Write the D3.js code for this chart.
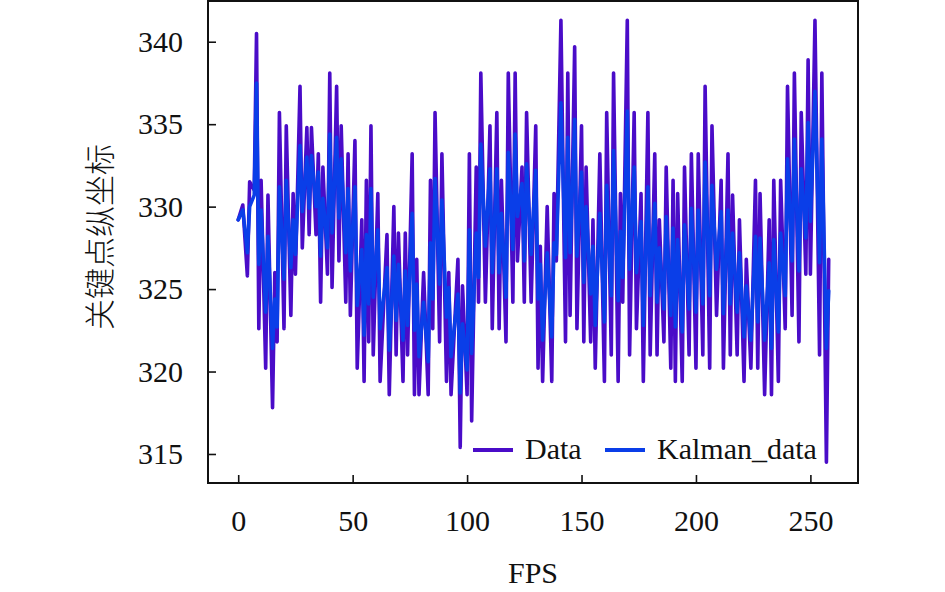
<!DOCTYPE html>
<html>
<head>
<meta charset="utf-8">
<script src="https://cdn.jsdelivr.net/npm/d3@7"></script>
<style>
  body { margin: 0; background: #fff; }
</style>
</head>
<body>
<div id="chart"></div>
<script>
// frame numbers of the vertices
var frames = [0,2,4,5,7,8,9,10,12,13,15,16,17,18,20,21,23,24,25,27,28,30,31,32,34,35,36,37,39,40,
  41,43,44,45,47,48,49,51,52,54,55,56,57,58,59,61,62,65,66,68,69,70,72,73,74,76,77,78,79,81,
  83,84,85,86,88,89,91,92,93,96,97,98,100,101,102,104,105,106,108,110,111,113,114,115,117,118,120,121,122,124,
  125,126,128,130,131,132,133,135,137,138,139,141,143,144,145,147,148,150,151,152,154,155,156,158,160,161,163,164,166,167,
  168,170,171,173,174,176,177,179,180,182,183,184,186,187,189,190,191,192,194,195,197,198,200,201,203,204,206,207,209,211,
  212,214,215,216,218,219,221,222,224,226,227,228,230,232,233,234,236,237,239,240,242,243,245,246,248,249,250,252,254,255,
  257,258];

var dataVals = [329.2,330.1,325.8,331.5,331.0,340.5,322.6,331.6,320.2,330.7,317.8,326.0,321.8,335.7,322.6,334.9,323.4,330.8,325.9,337.3,327.5,334.8,328.3,334.8,328.3,333.2,324.2,332.4,325.9,338.1,
  325.1,337.3,326.7,334.9,324.2,333.2,323.4,334.0,320.2,329.2,319.4,331.6,321.8,334.9,321.0,330.8,319.4,328.3,318.6,330.0,321.0,328.4,319.4,328.4,321.0,333.2,318.6,326.8,318.6,326.0,
  318.6,331.6,322.6,335.7,321.8,333.2,319.4,326.0,318.6,326.8,315.4,325.2,318.6,333.2,317.0,332.4,324.2,338.1,324.2,334.9,322.6,335.7,322.6,331.6,321.8,338.1,324.2,338.1,326.7,332.4,
  324.2,335.7,324.2,334.9,320.2,327.6,319.4,330.0,319.4,330.8,326.7,341.3,321.8,338.1,323.4,339.7,322.6,334.9,321.8,332.4,321.8,329.2,320.2,333.2,319.4,335.7,321.0,338.1,319.4,330.8,
  324.2,341.3,321.0,335.7,322.6,330.8,319.4,335.7,321.0,333.2,321.0,329.2,321.8,332.4,320.2,331.6,319.4,330.8,319.4,332.4,321.0,333.2,320.2,333.2,321.0,337.3,320.2,334.9,323.4,331.6,
  320.2,333.2,321.0,330.7,321.0,329.2,319.4,326.8,320.2,331.6,320.2,330.8,318.6,329.2,318.6,331.6,319.4,331.6,322.6,337.3,323.4,338.1,321.8,335.7,325.9,338.9,325.9,341.3,321.0,338.1,
  314.5,326.8];

var kalmanVals = [329.2,329.8,327.2,330.0,330.7,337.5,326.5,329.8,323.6,328.2,321.4,324.4,322.7,331.2,325.6,331.6,326.3,329.2,327.1,333.7,329.7,333.0,329.9,333.1,330.0,332.1,327.0,330.5,327.5,334.4,
  328.4,334.2,329.3,332.9,327.2,331.1,326.1,331.2,324.0,327.4,322.2,328.3,324.1,331.1,324.5,328.6,322.6,326.3,321.3,327.0,323.1,326.5,321.9,326.1,322.8,329.6,322.5,325.3,320.9,324.2,
  320.6,327.8,324.4,331.7,325.3,330.4,323.3,325.1,320.9,324.7,318.7,322.9,320.1,328.6,321.1,328.4,325.7,333.8,327.6,332.3,326.0,332.3,326.0,329.6,324.5,333.3,327.4,334.4,329.4,331.4,
  326.7,332.6,327.1,332.2,324.4,326.5,321.9,327.2,322.1,327.8,327.1,336.3,326.9,334.2,327.2,335.3,327.0,332.1,325.4,330.0,324.7,327.6,322.8,329.6,323.0,331.3,324.6,333.4,324.3,328.5,
  325.7,335.8,326.2,332.4,326.0,329.1,322.8,331.2,324.6,330.2,324.2,327.5,323.8,329.4,323.4,328.7,322.7,328.0,322.4,328.9,323.8,329.9,323.6,329.8,324.1,332.7,324.6,331.3,326.2,329.7,
  323.5,329.8,324.1,328.4,323.6,327.2,322.1,325.2,321.9,328.2,323.0,328.1,321.9,326.6,321.4,328.0,322.4,328.4,324.6,332.9,326.7,334.1,326.1,332.3,328.1,335.1,329.1,337.0,326.6,334.1,
  321.4,324.9];

var xTicks = [0, 50, 100, 150, 200, 250];
var yTicks = [315, 320, 325, 330, 335, 340];
var seriesNames = ["Data", "Kalman_data"];
var seriesColors = ["#4a0cc8", "#0a3ee8"];

var serif = "'Liberation Serif', 'Times New Roman', serif";

var W = 945, H = 592;
var margin = {left: 208, top: 1, right: 87, bottom: 109};
var pw = W - margin.left - margin.right;
var ph = H - margin.top - margin.bottom;

var svg = d3.select("#chart").append("svg")
    .attr("width", W)
    .attr("height", H);

var g = svg.append("g")
    .attr("transform", "translate(" + margin.left + "," + margin.top + ")");

var x = d3.scaleLinear().domain([-13.2, 270.8]).range([0, pw]);
var y = d3.scaleLinear().domain([313.24, 342.47]).range([ph, 0]);

// axes, ticks pointing inward
var xAxis = g.append("g")
    .attr("transform", "translate(0," + ph + ")")
    .call(d3.axisBottom(x).tickValues(xTicks).tickSize(-8).tickPadding(27));
var yAxis = g.append("g")
    .call(d3.axisLeft(y).tickValues(yTicks).tickSize(-8).tickPadding(25));

[xAxis, yAxis].forEach(function(a) {
  a.select(".domain").remove();
  a.selectAll(".tick line").attr("stroke", "#111").attr("stroke-width", 1.6);
  a.selectAll(".tick text")
    .style("font-family", serif)
    .style("font-size", "30px")
    .style("fill", "#111");
});

var line = d3.line()
    .x(function(d) { return x(d[0]); })
    .y(function(d) { return y(d[1]); });

var dataPts = frames.map(function(f, i) { return [f, dataVals[i]]; });
var kalPts = frames.map(function(f, i) { return [f, kalmanVals[i]]; });

g.append("path")
    .attr("d", line(dataPts))
    .style("fill", "none")
    .style("stroke", seriesColors[0])
    .style("stroke-width", 3.6)
    .style("stroke-linejoin", "round")
    .style("stroke-linecap", "round");

g.append("path")
    .attr("d", line(kalPts))
    .style("fill", "none")
    .style("stroke", seriesColors[1])
    .style("stroke-width", 3.6)
    .style("stroke-linejoin", "round")
    .style("stroke-linecap", "round");

// legend
var legend = svg.append("g");
var legX = [473, 605];
seriesNames.forEach(function(name, i) {
  legend.append("line")
      .attr("x1", legX[i]).attr("x2", legX[i] + 40)
      .attr("y1", 450).attr("y2", 450)
      .attr("stroke", seriesColors[i])
      .attr("stroke-width", 4);
  legend.append("text")
      .attr("x", legX[i] + 52)
      .attr("y", 459)
      .style("font-family", serif)
      .style("font-size", "30px")
      .style("fill", "#111")
      .text(name);
});

// frame
g.append("rect")
    .attr("x", 0).attr("y", 0)
    .attr("width", pw).attr("height", ph)
    .style("fill", "none")
    .style("stroke", "#111")
    .style("stroke-width", 2);

// axis titles
svg.append("text")
    .attr("x", margin.left + pw / 2)
    .attr("y", 583)
    .attr("text-anchor", "middle")
    .style("font-family", serif)
    .style("font-size", "30px")
    .style("fill", "#111")
    .text("FPS");

svg.append("text")
    .attr("transform", "translate(111,237) rotate(-90)")
    .attr("text-anchor", "middle")
    .style("font-family", "'Noto Sans CJK SC', sans-serif")
    .style("font-size", "31px")
    .style("font-weight", "300")
    .style("fill", "#111")
    .text("关键点纵坐标");
</script>
</body>
</html>
